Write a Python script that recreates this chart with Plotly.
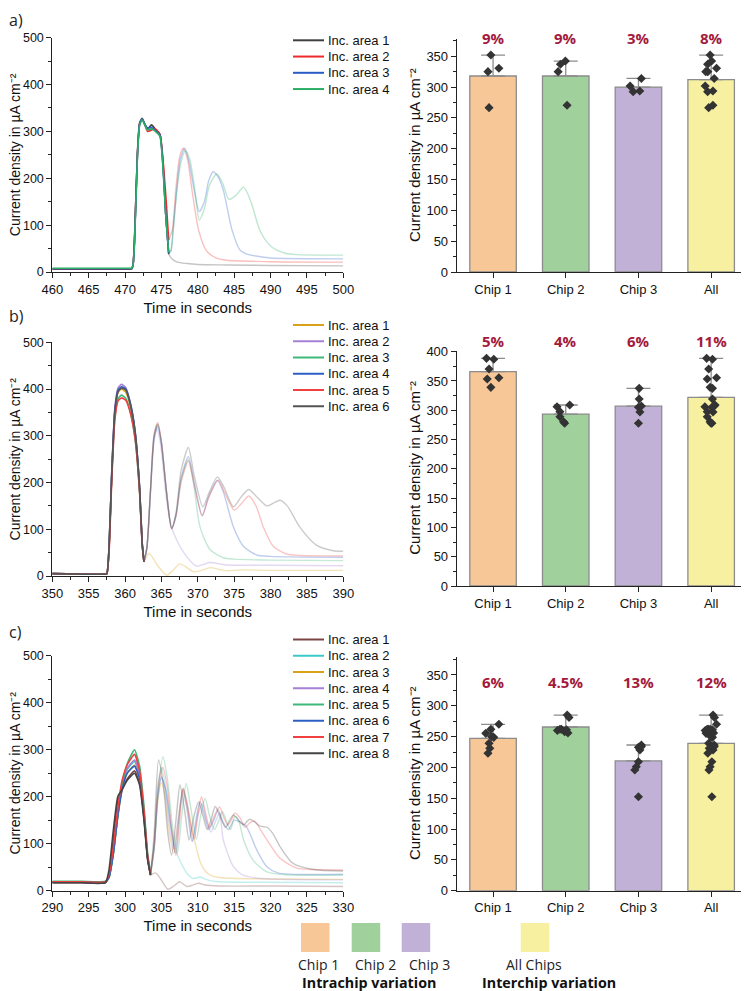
import numpy as np
import plotly.graph_objects as go

# the page body adds an 8 px margin around the figure
OFF = 8
W, H = 749 - OFF, 991 - OFF

# ---------------- Panel a transients ----------------
A_NAMES = ["Inc. area 1", "Inc. area 2", "Inc. area 3", "Inc. area 4"]
A_COLORS = ["#404040", "#ee2b2b", "#2a5cc6", "#2aae66"]
A_FADE = 476.0
A_T = [
    [460, 466, 470.5, 470.9, 471.1, 471.3, 471.7, 472.0, 472.35, 472.7, 473.1, 473.65, 474.2, 474.8, 475.2, 475.6, 476.0,
     476.5, 477.2, 478.5, 480, 484, 490, 500],
    [460, 466, 470.5, 470.9, 471.1, 471.3, 471.7, 472.0, 472.35, 472.7, 473.1, 473.5, 474.1, 474.8, 475.3, 475.7, 476.0,
     476.5, 477.0, 477.5, 478.0, 478.6, 479.2, 480.1, 481.2, 482.5, 484, 490, 500],
    [460, 466, 470.5, 470.9, 471.1, 471.3, 471.7, 472.0, 472.35, 472.7, 473.1, 473.6, 474.1, 474.8, 475.2, 475.6, 476.0,
     476.3, 476.6, 477.1, 477.6, 478.2, 478.8, 479.5, 480.2, 480.9, 481.5, 482.1, 482.7, 483.5, 484.7,
     485.8, 487, 488.5, 490, 500],
    [460, 466, 470.5, 470.9, 471.1, 471.3, 471.7, 472.0, 472.35, 472.7, 473.1, 473.6, 474.1, 474.8, 475.2, 475.6, 476.0,
     476.3, 476.6, 477.1, 477.7, 478.3, 478.9, 479.6, 480.2, 480.9, 481.6, 482.6, 483.4, 484.3, 485.2,
     486.3, 487.3, 488.5, 489.7, 490.8, 492, 493.5, 500],
]
A_J = [
    [6, 6, 6, 6, 15, 70, 255, 318, 328, 316, 305, 314, 304, 294, 235, 120, 38,
     27, 21, 18, 16, 15, 14, 13],
    [7, 7, 7, 7, 15, 70, 250, 315, 327, 315, 300, 302, 306, 294, 225, 140, 68,
     90, 180, 245, 264, 240, 175, 90, 45, 30, 25, 22, 21],
    [7, 7, 7, 7, 15, 65, 250, 316, 327, 316, 307, 309, 303, 292, 230, 120, 40,
     45, 90, 175, 240, 264, 235, 175, 129, 150, 195, 214, 205, 175, 90,
     47, 37, 33, 30, 28],
    [8, 8, 8, 8, 15, 60, 245, 313, 325, 314, 303, 306, 301, 289, 225, 120, 42,
     45, 85, 170, 235, 259, 240, 175, 111, 135, 185, 209, 190, 155, 163,
     181, 150, 90, 60, 47, 40, 37, 36],
]

# ---------------- Panel b transients ----------------
B_NAMES = ["Inc. area 1", "Inc. area 2", "Inc. area 3", "Inc. area 4", "Inc. area 5", "Inc. area 6"]
B_COLORS = ["#d9a21a", "#a580d6", "#3cb878", "#2d5fc4", "#f04040", "#555555"]
B_FADE = 362.6
B_T = [
    [350, 354, 357.2, 357.5, 357.8, 358.15, 358.6, 359.05, 359.5, 360.1, 360.8, 361.4, 362.0, 362.35, 362.6,
     363.3, 364.5, 365.7, 366.6, 367.5, 368.5, 369.4, 370.5, 371.7, 373, 374, 376, 380, 390],
    [350, 354, 357.2, 357.5, 357.8, 358.15, 358.6, 359.05, 359.5, 360.1, 360.8, 361.4, 362.0, 362.35, 362.6,
     363.0, 363.5, 364.0, 364.4, 364.9, 365.7, 366.3, 367.1, 368.5, 369.85, 370.8, 371.7, 373, 374, 380, 390],
    [350, 354, 357.2, 357.5, 357.8, 358.15, 358.6, 359.05, 359.5, 360.1, 360.8, 361.4, 362.0, 362.35, 362.6,
     363.0, 363.5, 364.0, 364.5, 365.0, 365.7, 366.4, 367.0, 367.7, 368.7, 369.4, 370.3, 371.7, 373.5,
     375, 380, 390],
    [350, 354, 357.2, 357.5, 357.8, 358.15, 358.6, 359.05, 359.5, 360.1, 360.8, 361.4, 362.0, 362.35, 362.6,
     363.0, 363.5, 364.0, 364.5, 365.0, 365.7, 366.4, 367.0, 367.7, 368.7, 369.5, 370.6, 371.5, 372.7,
     373.5, 374.9, 376.3, 378.1, 380, 390],
    [350, 354, 357.2, 357.5, 357.8, 358.15, 358.6, 359.05, 359.5, 360.1, 360.8, 361.4, 362.0, 362.35, 362.6,
     363.0, 363.5, 364.0, 364.5, 365.0, 365.7, 366.4, 367.0, 367.7, 368.7, 369.5, 370.6, 371.5, 372.8,
     373.8, 375.0, 376, 377.0, 378, 379.0, 380.4, 382.2, 384, 390],
    [350, 354, 357.2, 357.5, 357.8, 358.15, 358.6, 359.05, 359.5, 360.1, 360.8, 361.4, 362.0, 362.35, 362.6,
     363.0, 363.5, 364.0, 364.5, 365.0, 365.7, 366.4, 367.0, 367.7, 368.7, 369.5, 370.7, 371.6, 372.7,
     373.6, 374.9, 376, 377.0, 378.2, 379.5, 380.4, 381.3, 382.3, 384.0, 386.3, 388.6, 390],
]
B_J = [
    [5, 4, 4, 5, 60, 210, 352, 393, 400, 393, 358, 300, 185, 70, 30,
     48, 22, 2, 12, 26, 18, 9, 12, 18, 14, 11, 13, 12, 12],
    [5, 4, 4, 5, 62, 215, 360, 403, 410, 403, 365, 305, 188, 72, 30,
     60, 180, 290, 314, 280, 163, 110, 77, 41, 21, 25, 29, 26, 23.5, 23, 22],
    [5, 4, 4, 5, 58, 205, 340, 380, 387, 380, 345, 290, 178, 68, 30,
     60, 185, 300, 325, 285, 180, 102, 130, 205, 249, 200, 105, 56, 39,
     36, 34, 33],
    [5, 4, 4, 5, 60, 212, 356, 398, 405, 400, 365, 308, 190, 72, 32,
     60, 180, 295, 320, 282, 180, 102, 130, 210, 255, 200, 130, 170, 205,
     180, 105, 63, 45, 42, 40],
    [5, 4, 4, 5, 50, 195, 335, 375, 381, 376, 345, 292, 180, 68, 30,
     60, 185, 305, 328, 288, 180, 100, 128, 200, 246, 195, 128, 168, 205,
     175, 141, 155, 171, 150, 105, 63, 47, 44, 43],
    [5, 4, 4, 5, 60, 208, 352, 395, 402, 398, 362, 305, 188, 70, 30,
     60, 185, 300, 325, 285, 180, 102, 135, 225, 275, 215, 148, 180, 212,
     190, 148, 170, 185, 168, 150, 156, 162, 150, 105, 66, 54, 53],
]

# ---------------- Panel c transients ----------------
C_NAMES = ["Inc. area %d" % i for i in range(1, 9)]
C_COLORS = ["#7a4444", "#3cc8c8", "#d9a21a", "#a580d6", "#3cb878", "#2d5fc4", "#f04040", "#444444"]
C_FADE = 303.5
C_T = [
    [290, 294, 297.3, 297.8, 298.4, 299.0, 299.6, 300.3, 301.3, 302.0, 302.6, 303.1, 303.5,
     304.2, 304.9, 305.9, 306.7, 307.5, 308.5, 309.3, 310.1, 311, 313, 320, 330],
    [290, 294, 297.3, 297.8, 298.4, 299.0, 299.6, 300.3, 301.3, 302.0, 302.6, 303.1, 303.5,
     304.0, 304.5, 305.0, 305.5, 306.2, 307.1, 308.5, 309.4, 310.3, 311.5, 313, 320, 330],
    [290, 294, 297.3, 297.8, 298.4, 299.0, 299.6, 300.3, 301.3, 302.0, 302.6, 303.1, 303.5,
     304.0, 304.5, 305.0, 305.5, 306.0, 306.7, 307.3, 308.0, 308.6, 309.5, 310.5, 311.5, 313, 320, 330],
    [290, 294, 297.3, 297.8, 298.4, 299.0, 299.6, 300.3, 301.3, 302.0, 302.6, 303.1, 303.5,
     304.0, 304.5, 305.0, 305.5, 306.0, 306.7, 307.3, 308.0, 308.6, 309.3, 310.0, 310.6, 311.2, 311.8,
     312.5, 313.0, 313.5, 314.9, 316, 318, 330],
    [290, 294, 297.3, 297.8, 298.4, 299.0, 299.6, 300.3, 301.3, 302.0, 302.6, 303.1, 303.5,
     304.0, 304.6, 305.2, 305.8, 306.5, 307.2, 307.8, 308.4, 309.0, 309.8, 310.4, 311.0, 311.6, 312.3,
     312.9, 313.4, 314.0, 314.5, 315.1, 315.6, 316.3, 317.6, 319.5, 322, 330],
    [290, 294, 297.3, 297.8, 298.4, 299.0, 299.6, 300.3, 301.3, 302.0, 302.6, 303.1, 303.5,
     304.0, 304.5, 305.0, 305.6, 306.3, 306.9, 307.4, 307.9, 308.5, 309.2, 309.8, 310.3, 310.9, 311.5,
     312.2, 312.8, 313.5, 314.2, 315.0, 315.9, 316.6, 317.2, 318.1, 319.5, 321, 330],
    [290, 294, 297.3, 297.8, 298.4, 299.0, 299.6, 300.3, 301.3, 302.0, 302.6, 303.1, 303.5,
     304.0, 304.6, 305.2, 305.8, 306.4, 307.0, 307.5, 308.0, 308.6, 309.5, 310.0, 310.5, 311.0, 311.6,
     312.3, 313.0, 313.6, 314.1, 314.6, 315.1, 315.8, 316.5, 317.2, 317.8, 318.6, 319.5, 321.3, 323.6,
     326, 330],
    [290, 294, 297.3, 297.8, 298.4, 299.0, 299.6, 300.3, 301.3, 302.0, 302.6, 303.1, 303.5,
     304.0, 304.6, 305.3, 305.9, 306.4, 307.0, 307.55, 308.2, 308.8, 309.5, 310.1, 310.7, 311.3, 311.8,
     312.4, 313.0, 313.8, 314.4, 314.9, 315.6, 316.3, 316.8, 317.2, 317.9, 318.5, 319.0, 319.5, 320.3,
     321.3, 323.1, 325.9, 330],
]
C_J = [
    [17, 17, 17, 35, 110, 190, 215, 238, 255, 230, 155, 68, 33,
     38, 25, 3, 10, 19, 9, 12, 16, 12, 10, 10, 9],
    [19, 19, 19, 30, 82, 160, 222, 258, 275, 245, 165, 72, 35,
     100, 220, 262, 225, 143, 80, 37, 26, 29, 22, 19, 18, 17],
    [19, 19, 19, 28, 80, 157, 215, 250, 267, 238, 160, 70, 34,
     90, 190, 230, 200, 130, 80, 150, 218, 180, 110, 55, 35, 28, 25, 24],
    [19, 19, 19, 30, 85, 165, 225, 260, 278, 245, 165, 72, 35,
     95, 200, 243, 215, 150, 88, 150, 215, 180, 105, 160, 185, 150, 125,
     150, 165, 108, 51, 35, 27, 23],
    [20, 20, 20, 30, 80, 160, 225, 270, 300, 265, 180, 80, 38,
     90, 220, 285, 240, 140, 80, 160, 228, 180, 110, 160, 197, 160, 130,
     150, 168, 145, 130, 158, 150, 108, 65, 40, 34, 33],
    [18, 18, 18, 28, 80, 158, 215, 250, 265, 238, 160, 70, 34,
     90, 200, 240, 215, 140, 80, 150, 215, 175, 105, 155, 190, 160, 130,
     150, 172, 145, 130, 150, 145, 138, 120, 87, 51, 38, 35],
    [19, 19, 19, 35, 95, 175, 235, 268, 290, 255, 170, 75, 36,
     100, 230, 262, 220, 130, 75, 150, 218, 175, 110, 160, 200, 170, 135,
     160, 178, 155, 140, 150, 165, 155, 135, 145, 148, 130, 108, 69, 48,
     45, 44],
    [17, 17, 17, 45, 130, 200, 215, 235, 250, 225, 150, 66, 33,
     120, 278, 220, 120, 76, 150, 225, 170, 108, 160, 189, 160, 130, 150,
     179, 160, 135, 150, 161, 150, 140, 148, 152, 145, 138, 136, 135, 122,
     94, 58, 45, 42],
]

# ---------------- Bar charts ----------------
CATS = ["Chip 1", "Chip 2", "Chip 3", "All"]
BAR_COLORS = ["#f7c797", "#a0d19d", "#c2b1d6", "#f6f0a0"]

A_MEAN = [318, 318, 300, 312]
A_TOP = [352, 342, 314, 352]
A_PCT = ["9%", "9%", "3%", "8%"]
A_PTS = [[352, 325, 330.5, 266.6], [342.4, 337, 325, 270.5], [314, 301.8, 292.6, 293.7]]
A_JIT = [[-0.03, -0.07, 0.08, -0.055], [-0.005, -0.073, -0.105, 0.018], [0.04, -0.115, -0.073, 0.018]]

B_MEAN = [366, 293.5, 307, 322]
B_TOP = [388.6, 309, 337.4, 388.6]
B_PCT = ["5%", "4%", "6%", "11%"]
B_PTS = [[388.6, 387, 370.4, 353.3, 355.6, 339.1],
         [306, 309, 297.6, 289, 277.7, 280.5],
         [337.4, 319.2, 307.3, 297, 305, 277.7]]
B_JIT = [[-0.09, 0.01, -0.055, -0.08, 0.08, -0.03],
         [-0.12, 0.055, -0.08, -0.08, -0.015, -0.03],
         [0.01, 0.01, 0.04, 0.02, 0.0, 0.0]]

C_MEAN = [247.3, 265.6, 210.5, 239]
C_TOP = [270, 285, 236.4, 285]
C_PCT = ["6%", "4.5%", "13%", "12%"]
C_PTS = [[270, 261.8, 255.3, 248.8, 239.1, 231, 222.9, 250],
         [285, 281, 262, 260, 258, 256, 262, 261],
         [236.4, 232.6, 228.3, 209.3, 201.2, 195.8, 152.5, 233.8]]
C_JIT = [[0.08, -0.03, -0.1, 0.01, -0.055, -0.045, -0.07, -0.02],
         [0.02, 0.045, -0.06, -0.115, -0.015, 0.03, -0.08, 0.01],
         [0.04, 0.0, 0.02, 0.0, -0.03, -0.05, 0.0, 0.04]]

LEGEND_BOTTOM = ["Chip 1", "Chip 2", "Chip 3", "All Chips"]

FONT = "Liberation Sans, Arial, sans-serif"
FONT2 = "Open Sans, Noto Sans, sans-serif"
YTITLE = "Current density in µA cm\u207b\u00b2"


def px_x(p):
    return (p - OFF) / W


def px_y(p):
    return 1 - (p - OFF) / H


fig = go.Figure()

# panel geometry in window pixels: (xaxis id, x0, x1, y of zero, y of top, y max)
PANELS = [
    ("x", 52.3, 343.3, 272.0, 37.7, 500),
    ("x2", 456.7, 747.5, 272.0, 39.0, 378),
    ("x3", 52.3, 343.3, 576.0, 342.3, 500),
    ("x4", 456.7, 747.5, 586.0, 350.5, 402),
    ("x5", 52.3, 343.3, 890.7, 655.7, 500),
    ("x6", 456.7, 747.5, 890.7, 656.5, 380),
]
GEOM = {p[0]: p for p in PANELS}


def add_transients(T, J, colors, fade, xa, ya):
    for t, j, c in zip(T, J, colors):
        t = np.array(t, float); j = np.array(j, float)
        m = t >= fade
        fig.add_trace(go.Scatter(x=t[m], y=j[m], mode="lines", opacity=0.3,
                                 line=dict(color=c, width=1.4, shape="spline", smoothing=0.7),
                                 xaxis=xa, yaxis=ya, showlegend=False, hoverinfo="skip"))
    for t, j, c in zip(T, J, colors):
        t = np.array(t, float); j = np.array(j, float)
        m = t <= fade
        fig.add_trace(go.Scatter(x=t[m], y=j[m], mode="lines",
                                 line=dict(color=c, width=1.6, shape="spline", smoothing=0.5),
                                 xaxis=xa, yaxis=ya, showlegend=False))


add_transients(A_T, A_J, A_COLORS, A_FADE, "x", "y")
add_transients(B_T, B_J, B_COLORS, B_FADE, "x3", "y3")
add_transients(C_T, C_J, C_COLORS, C_FADE, "x5", "y5")


def add_bars(means, tops, pts, jit, xa, ya):
    fig.add_trace(go.Bar(
        x=list(range(len(CATS))), y=means, width=0.64,
        marker=dict(color=BAR_COLORS, line=dict(color="#8c8c8c", width=1.3)),
        error_y=dict(type="data", symmetric=False,
                     array=[tp - m for tp, m in zip(tops, means)],
                     arrayminus=[0] * len(means),
                     color="#8c8c8c", thickness=1.3, width=12),
        xaxis=xa, yaxis=ya, showlegend=False))
    xs, ys = [], []
    for i, (p, jj) in enumerate(zip(pts, jit)):
        xs += [i + d for d in jj]
        ys += p
    for p, jj in zip(pts, jit):
        xs += [3 + d * 0.8 + 0.01 for d in jj]
        ys += p
    fig.add_trace(go.Scatter(x=xs, y=ys, mode="markers",
                             marker=dict(symbol="diamond", size=7, color="#333333"),
                             xaxis=xa, yaxis=ya, showlegend=False))


add_bars(A_MEAN, A_TOP, A_PTS, A_JIT, "x2", "y2")
add_bars(B_MEAN, B_TOP, B_PTS, B_JIT, "x4", "y4")
add_bars(C_MEAN, C_TOP, C_PTS, C_JIT, "x6", "y6")

layout = dict(width=W, height=H, margin=dict(l=0, r=0, t=0, b=0),
              paper_bgcolor="white", plot_bgcolor="white",
              font=dict(family=FONT, size=13, color="#111"), showlegend=False)

X_RANGES = {"x": [460, 500], "x3": [350, 390], "x5": [290, 330]}

shapes = []
annotations = []

for xa, x0, x1, yz, yt, ymax in PANELS:
    n = xa[1:]
    xk = "xaxis" + n
    yk = "yaxis" + n
    ya = "y" + n
    common = dict(showline=True, linecolor="#222", linewidth=1, ticks="outside",
                  ticklen=5, tickwidth=1, tickcolor="#222", showgrid=False, zeroline=False,
                  tickfont=dict(family=FONT, size=13, color="#111"), automargin=False)
    if xa in X_RANGES:
        layout[xk] = dict(domain=[px_x(x0), px_x(x1)], range=X_RANGES[xa], anchor=ya,
                          dtick=5, tick0=0,
                          minor=dict(dtick=2.5, ticks="outside", ticklen=3, tickcolor="#222"),
                          title=dict(text="Time in seconds", font=dict(size=15, family=FONT), standoff=6),
                          **common)
        ycommon = dict(common)
        ycommon["tickfont"] = dict(family=FONT, size=12.5, color="#111")
        layout[yk] = dict(domain=[px_y(yz), px_y(yt)], range=[0, ymax], anchor=xa, dtick=100,
                          minor=dict(dtick=50, ticks="outside", ticklen=3, tickcolor="#222"),
                          **ycommon)
        tx, txa, tfs = px_x(24.3), "right", 14
    else:
        layout[xk] = dict(domain=[px_x(x0), px_x(x1)], range=[-0.5, 3.5], anchor=ya,
                          tickvals=[0, 1, 2, 3], ticktext=CATS, **common)
        layout[yk] = dict(domain=[px_y(yz), px_y(yt)], range=[0, ymax], anchor=xa, dtick=50,
                          minor=dict(dtick=25, ticks="outside", ticklen=3, tickcolor="#222"),
                          **common)
        tx, txa, tfs = px_x(424), "right", 15
    # y-axis title as rotated text beside the tick labels
    annotations.append(dict(text=YTITLE, xref="paper", yref="paper", x=tx, xanchor=txa,
                            y=px_y((yz + yt) / 2), yanchor="middle", textangle=-90,
                            showarrow=False, borderpad=0,
                            font=dict(family=FONT, size=tfs, color="#111")))

# manual legends for transient panels
LEG = [(A_NAMES, A_COLORS, 40.3), (B_NAMES, B_COLORS, 325.0), (C_NAMES, C_COLORS, 639.5)]
for names, colors, y0 in LEG:
    for i, (nm, c) in enumerate(zip(names, colors)):
        yy = y0 + i * 16.25
        shapes.append(dict(type="line", xref="paper", yref="paper",
                           x0=px_x(293), x1=px_x(324), y0=px_y(yy), y1=px_y(yy),
                           line=dict(color=c, width=2)))
        annotations.append(dict(text=nm, xref="paper", yref="paper", x=px_x(327), y=px_y(yy),
                                xanchor="left", yanchor="middle", showarrow=False, borderpad=0,
                                font=dict(family=FONT, size=13, color="#111")))

# percent labels (value -> paper via panel geometry; may lie above the axis range)
for pcts, xa, yv in [(A_PCT, "x2", 380), (B_PCT, "x4", 418), (C_PCT, "x6", 339)]:
    _, x0, x1, yz, yt, ymax = GEOM[xa]
    ypx = yz - yv / ymax * (yz - yt)
    for i, p in enumerate(pcts):
        annotations.append(dict(text="<b>%s</b>" % p, xref=xa, yref="paper", x=i, y=px_y(ypx),
                                showarrow=False, yanchor="middle",
                                font=dict(family=FONT2, size=15, color="#a31a3c")))

# panel labels
for lab, yy in [("a)", None), ("b)", 316), ("c)", 632)]:
    if yy is None:
        annotations.append(dict(text=lab, xref="paper", yref="paper", x=0, y=1,
                                xanchor="left", yanchor="top", showarrow=False, borderpad=0,
                                font=dict(family=FONT2, size=16, color="#222")))
    else:
        annotations.append(dict(text=lab, xref="paper", yref="paper", x=0, y=px_y(yy),
                                xanchor="left", yanchor="middle", showarrow=False, borderpad=0,
                                font=dict(family=FONT2, size=16, color="#222")))

# bottom colour key
SQ_X = [301, 351.7, 401.7, 520.7]
for sx, c in zip(SQ_X, BAR_COLORS):
    shapes.append(dict(type="rect", xref="paper", yref="paper",
                       x0=px_x(sx), x1=px_x(sx + 28.5), y0=px_y(952), y1=px_y(923),
                       fillcolor=c, line=dict(width=0)))
for txt, cx in zip(LEGEND_BOTTOM, [318, 375, 429, 534]):
    annotations.append(dict(text=txt, xref="paper", yref="paper", x=px_x(cx), y=px_y(964.5),
                            xanchor="center", yanchor="middle", showarrow=False, borderpad=0,
                            font=dict(family=FONT2, size=14, color="#222")))
for txt, cx in [("Intrachip variation", 369), ("Interchip variation", 548.5)]:
    annotations.append(dict(text="<b>%s</b>" % txt, xref="paper", yref="paper", x=px_x(cx), y=px_y(982.3),
                            xanchor="center", yanchor="middle", showarrow=False, borderpad=0,
                            font=dict(family=FONT2, size=14.3, color="#111")))

layout["shapes"] = shapes
layout["annotations"] = annotations
fig.update_layout(**layout)
fig.write_html("out.html")
